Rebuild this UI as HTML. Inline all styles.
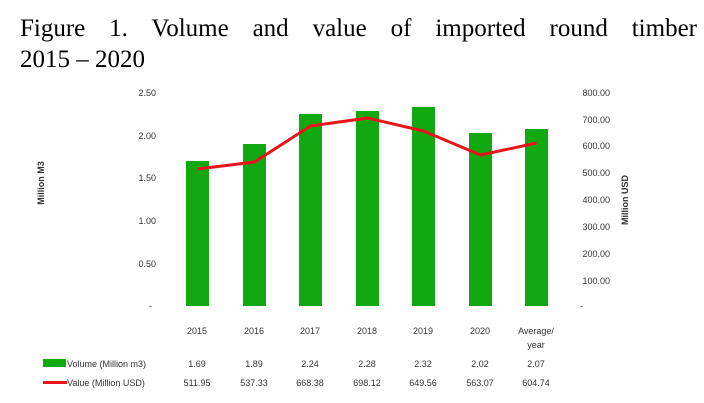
<!DOCTYPE html>
<html><head><style>
body{margin:0;background:#fff;width:704px;height:403px;overflow:hidden;position:relative}
.t{position:absolute;left:20px;width:677px;font-family:"Liberation Serif",serif;font-size:25px;color:#000;text-align:justify;text-align-last:justify;line-height:29px}
</style></head><body>
<div class="t" style="top:14px">Figure 1. Volume and value of imported round timber</div>
<div class="t" style="top:45px;text-align-last:left">2015 – 2020</div>
<svg width="704" height="403" style="position:absolute;left:0;top:0" font-family="Liberation Sans, sans-serif" font-size="9" fill="#333">
<g text-anchor="end">
<text x="156" y="96">2.50</text><text x="156" y="139">2.00</text><text x="156" y="181">1.50</text><text x="156" y="224">1.00</text><text x="156" y="267">0.50</text><text x="152" y="309">-</text>
</g>
<g text-anchor="end">
<text x="610" y="96">800.00</text><text x="610" y="123">700.00</text><text x="610" y="149">600.00</text><text x="610" y="176">500.00</text><text x="610" y="203">400.00</text><text x="610" y="230">300.00</text><text x="610" y="257">200.00</text><text x="610" y="284">100.00</text><text x="583" y="309">-</text>
</g>
<text transform="translate(44,183) rotate(-90)" text-anchor="middle" font-weight="bold" font-size="9">Million M3</text>
<text transform="translate(628,200) rotate(-90)" text-anchor="middle" font-weight="bold" font-size="9">Million USD</text>
<g fill="#11a811">
<rect x="186" y="161" width="23" height="145"/>
<rect x="243" y="144" width="23" height="162"/>
<rect x="299" y="114" width="23" height="192"/>
<rect x="356" y="111" width="23" height="195"/>
<rect x="412" y="107" width="23" height="199"/>
<rect x="469" y="133" width="23" height="173"/>
<rect x="525" y="129" width="23" height="177"/>
</g>
<polyline fill="none" stroke="#e8141c" stroke-width="3" stroke-linejoin="round" points="197.5,169 254.5,162 310.5,126 367.5,118 423.5,131 480.5,155 536.5,143"/>
<g text-anchor="middle">
<text x="197" y="334">2015</text><text x="254" y="334">2016</text><text x="310" y="334">2017</text><text x="367" y="334">2018</text><text x="423" y="334">2019</text><text x="480" y="334">2020</text><text x="536" y="334">Average/</text><text x="536" y="348">year</text>
<text x="197" y="367">1.69</text><text x="254" y="367">1.89</text><text x="310" y="367">2.24</text><text x="367" y="367">2.28</text><text x="423" y="367">2.32</text><text x="480" y="367">2.02</text><text x="536" y="367">2.07</text>
<text x="197" y="386">511.95</text><text x="254" y="386">537.33</text><text x="310" y="386">668.38</text><text x="367" y="386">698.12</text><text x="423" y="386">649.56</text><text x="480" y="386">563.07</text><text x="536" y="386">604.74</text>
</g>
<rect x="43" y="359" width="23" height="8" fill="#11a811"/>
<text x="67" y="367">Volume (Million m3)</text>
<rect x="43" y="381" width="24" height="3" fill="#e8141c"/>
<text x="67" y="386">Value (Million USD)</text>
</svg>
</body></html>
